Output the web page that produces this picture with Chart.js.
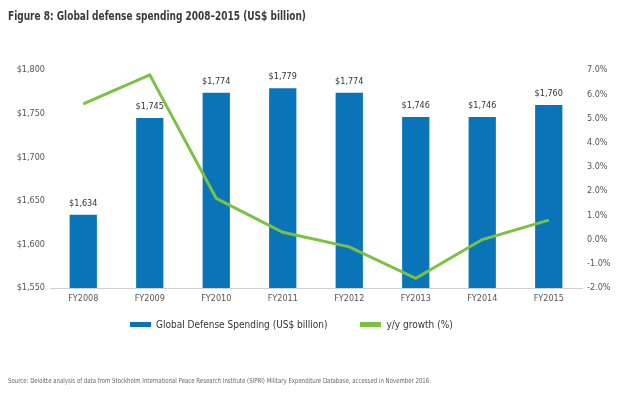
<!DOCTYPE html>
<html>
<head>
<meta charset="utf-8">
<script src="https://cdn.jsdelivr.net/npm/chart.js@4/dist/chart.umd.min.js"></script>
<style>
    body { margin: 0; background: #fff; }
    #wrap { position: relative; width: 640px; height: 394px; overflow: hidden; font-family: "DejaVu Sans Condensed", "Open Sans", sans-serif; }
    #chart { position: absolute; left: 0; top: 0; }
    #title { position: absolute; left: 8px; top: 8px; font-size: 12.5px; font-weight: bold; color: #3a3a3a; transform: scaleX(0.8); transform-origin: 0 0; white-space: nowrap; }
    #legend { position: absolute; left: 130px; top: 319px; font-size: 10px; color: #333; display: flex; align-items: center; }
    #legend .sw { display: inline-block; width: 21px; height: 5px; margin-right: 5px; }
    #legend .item { display: flex; align-items: center; margin-right: 33px; }
    #source { position: absolute; left: 8px; top: 377px; font-size: 7px; color: #666; transform: scaleX(0.86); transform-origin: 0 0; white-space: nowrap; }
</style>
</head>
<body>
<div id="wrap">
    <canvas id="chart" width="640" height="394"></canvas>
    <div id="title">Figure 8: Global defense spending 2008–2015 (US$ billion)</div>
    <div id="legend">
        <div class="item"><span class="sw" style="background:#0a74b8"></span>Global Defense Spending (US$ billion)</div>
        <div class="item"><span class="sw" style="background:#7cc242"></span>y/y growth (%)</div>
    </div>
    <div id="source">Source: Deloitte analysis of data from Stockholm International Peace Research Institute (SIPRI) Military Expenditure Database, accessed in November 2016.</div>
</div>
<script>
const years = ['FY2008', 'FY2009', 'FY2010', 'FY2011', 'FY2012', 'FY2013', 'FY2014', 'FY2015'];
const spending = [1634, 1745, 1774, 1779, 1774, 1746, 1746, 1760];
const growth = [5.6, 6.8, 1.7, 0.3, -0.3, -1.6, 0.0, 0.8];
const spendTicks = [1550, 1800, 50];
const growthTicks = [-2, 7, 1];

const tickFont = { family: '"DejaVu Sans Condensed", sans-serif', size: 9 };

// labels above bars
const barLabels = {
    id: 'barLabels',
    afterDatasetsDraw(chart) {
        const ctx = chart.ctx;
        const meta = chart.getDatasetMeta(1);
        ctx.save();
        ctx.font = '9px "DejaVu Sans Condensed", sans-serif';
        ctx.fillStyle = '#333';
        ctx.textAlign = 'center';
        ctx.textBaseline = 'bottom';
        meta.data.forEach((bar, i) => {
            ctx.fillText('$' + spending[i].toLocaleString('en-US'), bar.x, bar.y - 7);
        });
        ctx.restore();
    }
};

const ctx = document.getElementById('chart').getContext('2d');
new Chart(ctx, {
    type: 'bar',
    data: {
        labels: years,
        datasets: [{
            type: 'line',
            label: 'y/y growth (%)',
            data: growth,
            yAxisID: 'yr',
            borderColor: '#7cc242',
            backgroundColor: '#7cc242',
            borderWidth: 3,
            pointRadius: 0,
            tension: 0,
            order: 0
        }, {
            label: 'Global Defense Spending (US$ billion)',
            data: spending,
            yAxisID: 'y',
            backgroundColor: '#0a74b8',
            categoryPercentage: 1,
            barPercentage: 0.41,
            order: 1
        }]
    },
    options: {
        responsive: false,
        animation: false,
        layout: { padding: { top: 70, bottom: 86, left: 0, right: 0 } },
        plugins: { legend: { display: false }, tooltip: { enabled: false } },
        scales: {
            x: {
                grid: { display: false, drawTicks: false, tickLength: 0 },
                border: { display: true, color: '#d0d0d0', width: 1 },
                ticks: { color: '#555', font: tickFont, padding: 5 },
                afterFit(s) { s.height = 20; }
            },
            y: {
                position: 'left',
                min: spendTicks[0], max: spendTicks[1],
                grid: { display: false, drawTicks: false, tickLength: 0 },
                border: { display: false },
                ticks: {
                    stepSize: spendTicks[2], color: '#555', font: tickFont, padding: 5,
                    callback: v => '$' + v.toLocaleString('en-US')
                },
                afterFit(s) { s.width = 50; }
            },
            yr: {
                position: 'right',
                min: growthTicks[0], max: growthTicks[1],
                grid: { display: false, drawTicks: false, tickLength: 0 },
                border: { display: false },
                ticks: {
                    stepSize: growthTicks[2], color: '#555', font: tickFont, padding: 5,
                    callback: v => v.toFixed(1) + '%'
                },
                afterFit(s) { s.width = 58; }
            }
        }
    },
    plugins: [barLabels]
});
</script>
</body>
</html>
